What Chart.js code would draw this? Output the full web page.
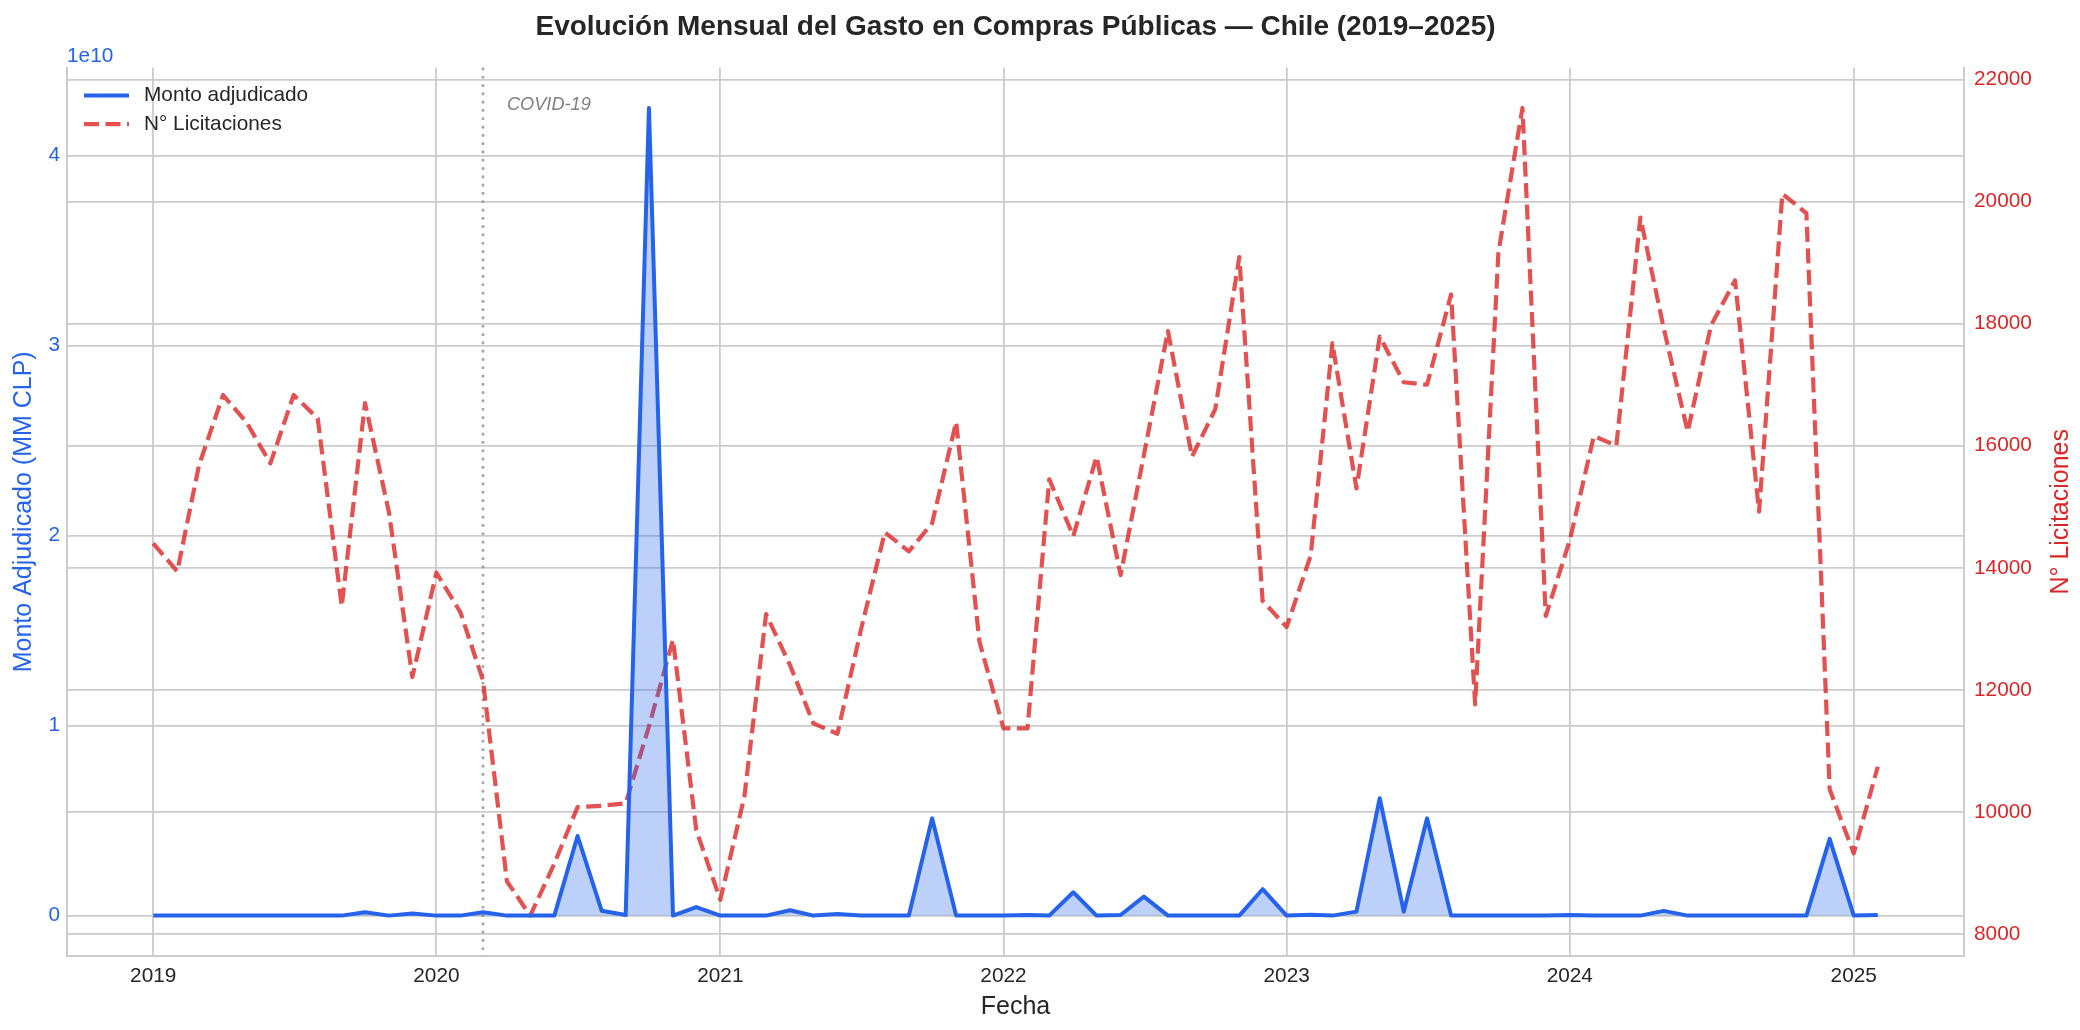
<!DOCTYPE html>
<html lang="es">
<head>
<meta charset="utf-8">
<title>Evolución Mensual del Gasto en Compras Públicas — Chile</title>
<script src="https://cdn.jsdelivr.net/npm/chart.js@4.4.1/dist/chart.umd.min.js"></script>
<style>
  html, body { margin: 0; padding: 0; background: #fff; }
  canvas { display: block; }
</style>
</head>
<body>
<canvas id="grafico" width="2080" height="1030"></canvas>
<script>
// meses (primer día de cada mes)
var meses = [
  '2019-01','2019-02','2019-03','2019-04','2019-05','2019-06','2019-07','2019-08','2019-09','2019-10','2019-11','2019-12',
  '2020-01','2020-02','2020-03','2020-04','2020-05','2020-06','2020-07','2020-08','2020-09','2020-10','2020-11','2020-12',
  '2021-01','2021-02','2021-03','2021-04','2021-05','2021-06','2021-07','2021-08','2021-09','2021-10','2021-11','2021-12',
  '2022-01','2022-02','2022-03','2022-04','2022-05','2022-06','2022-07','2022-08','2022-09','2022-10','2022-11','2022-12',
  '2023-01','2023-02','2023-03','2023-04','2023-05','2023-06','2023-07','2023-08','2023-09','2023-10','2023-11','2023-12',
  '2024-01','2024-02','2024-03','2024-04','2024-05','2024-06','2024-07','2024-08','2024-09','2024-10','2024-11','2024-12',
  '2025-01','2025-02'
];

// monto adjudicado (CLP)
var montoAdjudicado = [
  0, 0, 0, 0, 0, 0, 0, 0, 0, 1.8e8, 0, 1.1e8,
  0, 0, 1.8e8, 0, 0, 0, 4.19e9, 2.6e8, 3e7, 4.25e10, 0, 4.5e8,
  0, 0, 0, 2.8e8, 0, 9e7, 0, 0, 0, 5.12e9, 0, 0,
  0, 3e7, 0, 1.23e9, 0, 3e7, 1.0e9, 0, 0, 0, 0, 1.39e9,
  0, 5e7, 0, 2.1e8, 6.18e9, 2.1e8, 5.12e9, 0, 0, 0, 0, 0,
  3e7, 0, 0, 0, 2.5e8, 0, 0, 0, 0, 0, 0, 4.04e9,
  0, 3e7
];

// número de licitaciones
var nLicitaciones = [
  14400, 13940, 15680, 16830, 16390, 15710, 16830, 16450, 13370, 16700, 14900, 12210,
  13920, 13270, 12160, 8860, 8300, 9150, 10080, 10100, 10140, 11400, 12820, 9700,
  8560, 10250, 13240, 12400, 11450, 11280, 12970, 14580, 14270, 14730, 16390, 12790,
  11370, 11370, 15450, 14520, 15820, 13880, 15850, 17880, 15820, 16600, 19090, 13460,
  13030, 14200, 17680, 15300, 17790, 17040, 17000, 18480, 11760, 19170, 21535, 13210,
  14450, 16160, 16000, 19740, 17930, 16230, 17970, 18710, 14920, 20130, 19810, 10370,
  9320, 10740
];

var anios = [2019, 2020, 2021, 2022, 2023, 2024, 2025];
var ticksMonto = [0, 1e10, 2e10, 3e10, 4e10];
var ticksLicitaciones = [8000, 10000, 12000, 14000, 16000, 18000, 20000, 22000];
var fechaCovid = '2020-03-01';

var familia = '"Liberation Sans", Arial, sans-serif';
var azul = '#2563eb';
var rojo = '#dc2626';
var gris = '#262626';

Chart.defaults.font.family = familia;
Chart.defaults.color = gris;

function aDias(s) {
  var p = s.split('-');
  return Date.UTC(+p[0], +p[1] - 1, p[2] ? +p[2] : 1) / 864e5;
}

// limites con 5% de margen, como matplotlib
function rango(vals) {
  var lo = Math.min.apply(null, vals), hi = Math.max.apply(null, vals);
  var m = (hi - lo) * 0.05;
  return [lo - m, hi + m];
}

var dias = meses.map(aDias);
var rx = rango([dias[0], dias[dias.length - 1]]);
var ry = rango(montoAdjudicado);
var ry1 = rango(nLicitaciones);

function puntos(vals) {
  return vals.map(function (v, i) { return { x: dias[i], y: v }; });
}

var grilla = { color: '#cccccc', lineWidth: 1.8, drawTicks: false };
var borde = { display: true, color: '#cccccc', width: 2 };
var fuenteTicks = { size: 20.8 };

var extras = {
  id: 'extras',
  beforeDatasetsDraw: function (chart) {
    var a = chart.chartArea, c = chart.ctx;
    var x = chart.scales.x.getPixelForValue(aDias(fechaCovid));
    c.save();
    c.strokeStyle = 'rgba(128,128,128,0.7)';
    c.lineWidth = 2.7;
    c.setLineDash([2.7, 5.6]);
    c.beginPath();
    c.moveTo(x, a.top);
    c.lineTo(x, a.bottom);
    c.stroke();
    c.restore();
  },
  afterDraw: function (chart) {
    var a = chart.chartArea, c = chart.ctx;
    var x = chart.scales.x.getPixelForValue(aDias(fechaCovid));
    c.save();
    c.font = 'italic 18.2px ' + familia;
    c.fillStyle = '#808080';
    c.textBaseline = 'middle';
    c.fillText('COVID-19', x + 24, a.top + 37);

    // leyenda dentro del area
    chart.data.datasets.forEach(function (ds, i) {
      var y = a.top + 28 + i * 28.5;
      c.save();
      c.strokeStyle = ds.borderColor;
      c.lineWidth = ds.borderWidth;
      c.setLineDash(ds.borderDash || []);
      c.beginPath();
      c.moveTo(a.left + 17, y);
      c.lineTo(a.left + 62, y);
      c.stroke();
      c.restore();
      c.font = '20.8px ' + familia;
      c.fillStyle = gris;
      c.textBaseline = 'middle';
      c.fillText(ds.label, a.left + 77, y);
    });

    c.font = '20.8px ' + familia;
    c.fillStyle = azul;
    c.textBaseline = 'alphabetic';
    c.fillText('1e10', a.left, a.top - 6);

    c.translate(2061, (a.top + a.bottom) / 2);
    c.rotate(-Math.PI / 2);
    c.font = '25px ' + familia;
    c.fillStyle = rojo;
    c.textAlign = 'center';
    c.textBaseline = 'middle';
    c.fillText('N° Licitaciones', 0, 0);
    c.restore();
  }
};

new Chart(document.getElementById('grafico'), {
  type: 'line',
  data: {
    datasets: [{
      label: 'Monto adjudicado',
      data: puntos(montoAdjudicado),
      yAxisID: 'y',
      borderColor: azul,
      backgroundColor: 'rgba(37,99,235,0.3)',
      fill: 'origin',
      borderWidth: 4,
      borderJoinStyle: 'round',
      pointRadius: 0,
      tension: 0
    }, {
      label: 'N° Licitaciones',
      data: puntos(nLicitaciones),
      yAxisID: 'y1',
      borderColor: 'rgba(220,38,38,0.8)',
      borderDash: [15, 6.5],
      borderWidth: 4.2,
      borderJoinStyle: 'round',
      fill: false,
      pointRadius: 0,
      tension: 0
    }]
  },
  options: {
    responsive: false,
    devicePixelRatio: 1,
    animation: false,
    layout: { padding: 0 },
    scales: {
      x: {
        type: 'linear',
        min: rx[0],
        max: rx[1],
        afterBuildTicks: function (s) {
          s.ticks = anios.map(function (y) { return { value: Date.UTC(y, 0, 1) / 864e5 }; });
        },
        afterFit: function (s) { s.height = 74; },
        ticks: {
          autoSkip: false,
          maxRotation: 0,
          padding: 8,
          color: gris,
          font: fuenteTicks,
          callback: function (v) { return String(new Date(v * 864e5).getUTCFullYear()); }
        },
        grid: grilla,
        border: borde,
        title: { display: true, text: 'Fecha', color: gris, font: { size: 25 }, padding: { top: 0, bottom: 8 } }
      },
      y: {
        position: 'left',
        min: ry[0],
        max: ry[1],
        afterBuildTicks: function (s) {
          s.ticks = ticksMonto.map(function (v) { return { value: v }; });
        },
        afterFit: function (s) { s.width = 67; },
        ticks: {
          color: azul,
          padding: 7,
          font: fuenteTicks,
          callback: function (v) { return String(Math.round(v / 1e10)); }
        },
        grid: grilla,
        border: borde,
        title: { display: true, text: 'Monto Adjudicado (MM CLP)', color: azul, font: { size: 25 }, padding: { top: 9, bottom: 0 } }
      },
      y1: {
        position: 'right',
        min: ry1[0],
        max: ry1[1],
        afterBuildTicks: function (s) {
          s.ticks = ticksLicitaciones.map(function (v) { return { value: v }; });
        },
        afterFit: function (s) { s.width = 116; },
        ticks: {
          color: rojo,
          padding: 10,
          font: fuenteTicks,
          callback: function (v) { return String(v); }
        },
        grid: grilla,
        border: borde
      }
    },
    plugins: {
      title: {
        display: true,
        fullSize: false,
        text: 'Evolución Mensual del Gasto en Compras Públicas — Chile (2019–2025)',
        color: gris,
        font: { size: 28, weight: 'bold' },
        padding: { top: 10, bottom: 24 }
      },
      legend: { display: false },
      tooltip: { enabled: false }
    }
  },
  plugins: [extras]
});
</script>
</body>
</html>
